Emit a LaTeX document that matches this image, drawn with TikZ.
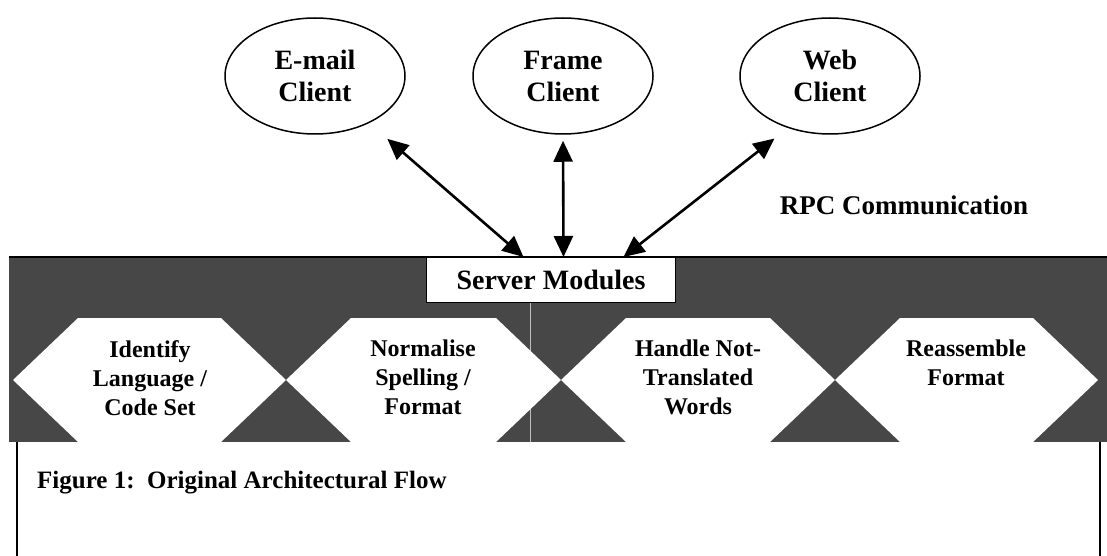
\documentclass[tikz,border=0pt]{standalone}
\usepackage{fontspec}
\setmainfont{Liberation Serif}
\usetikzlibrary{arrows.meta,shapes.geometric,calc}
\begin{document}
\begin{tikzpicture}[x=1pt,y=-1pt,
  lbl/.style={font=\bfseries\fontsize{27}{31}\selectfont, align=center, inner sep=0pt},
  client/.style={ellipse, draw=black, line width=1.5pt, minimum width=180pt, minimum height=116pt, inner sep=0pt, align=center, font=\bfseries\fontsize{28}{32}\selectfont},
  hexlbl/.style={font=\bfseries\fontsize{24}{29}\selectfont, align=center, inner sep=0pt, anchor=north},
  link/.style={line width=2.6pt, {Triangle[length=21pt,width=19pt]}-{Triangle[length=21pt,width=19pt]}},
  hexa/.style={fill=white},
  band/.style={fill=black!72},
]
\useasboundingbox (0,0) rectangle (1107,556);
\fill[white] (0,0) rectangle (1107,556);
% dark band
\fill[band] (9,257) rectangle (1107,442);
\draw[line width=2.5pt] (9,257) -- (1107,257);
\draw[black!25, line width=0.8pt] (530,303) -- (530,442);
% hexagons
\fill[hexa] (13,380) -- (78,318) -- (221,318) -- (286,380) -- (221,442) -- (78,442) -- cycle;
\fill[hexa] (286,380) -- (351,318) -- (496,318) -- (561,380) -- (496,442) -- (351,442) -- cycle;
\fill[hexa] (561,380) -- (626,318) -- (770,318) -- (835,380) -- (770,442) -- (626,442) -- cycle;
\fill[hexa] (835,380) -- (900,318) -- (1033,318) -- (1098,380) -- (1033,442) -- (900,442) -- cycle;
\node[hexlbl] (h1) at (150,340) {Identify\\Language /\\Code Set};
\node[hexlbl] (h2) at (423,340) {Normalise\\Spelling /\\Format};
\node[hexlbl] (h3) at (698,340) {Handle Not-\\Translated\\Words};
\node[hexlbl] (h4) at (966,340) {Reassemble\\Format};
% server box
\node[draw=black, fill=white, line width=1pt, minimum width=249pt, minimum height=45pt, anchor=north west, inner sep=0pt, font=\bfseries\fontsize{28}{32}\selectfont] (server) at (426,257) {Server Modules};
% lower box
\draw[line width=1.5pt] (17,442) -- (17,556);
\draw[line width=1.5pt] (1100,442) -- (1100,556);
\node[anchor=west, inner sep=0pt, font=\bfseries\fontsize{25}{30}\selectfont] (cap) at (37,483) {Figure 1:\ \ Original Architectural Flow};
% clients
\node[client] (email) at (315,76) {E-mail\\Client};
\node[client] (frame) at (563,76) {Frame\\Client};
\node[client] (web) at (830,76) {Web\\Client};
\node[lbl] (rpc) at (904,205) {RPC Communication};
% connectors
\draw[link, shorten <=24pt] (email.-41) -- ([xshift=-27.5pt]server.north);
\draw[link, shorten <=6pt] (frame.south) -- ([xshift=12.5pt]server.north);
\draw[link, shorten <=17pt] (web.-129) -- ([xshift=72.5pt]server.north);
\end{tikzpicture}
\end{document}
